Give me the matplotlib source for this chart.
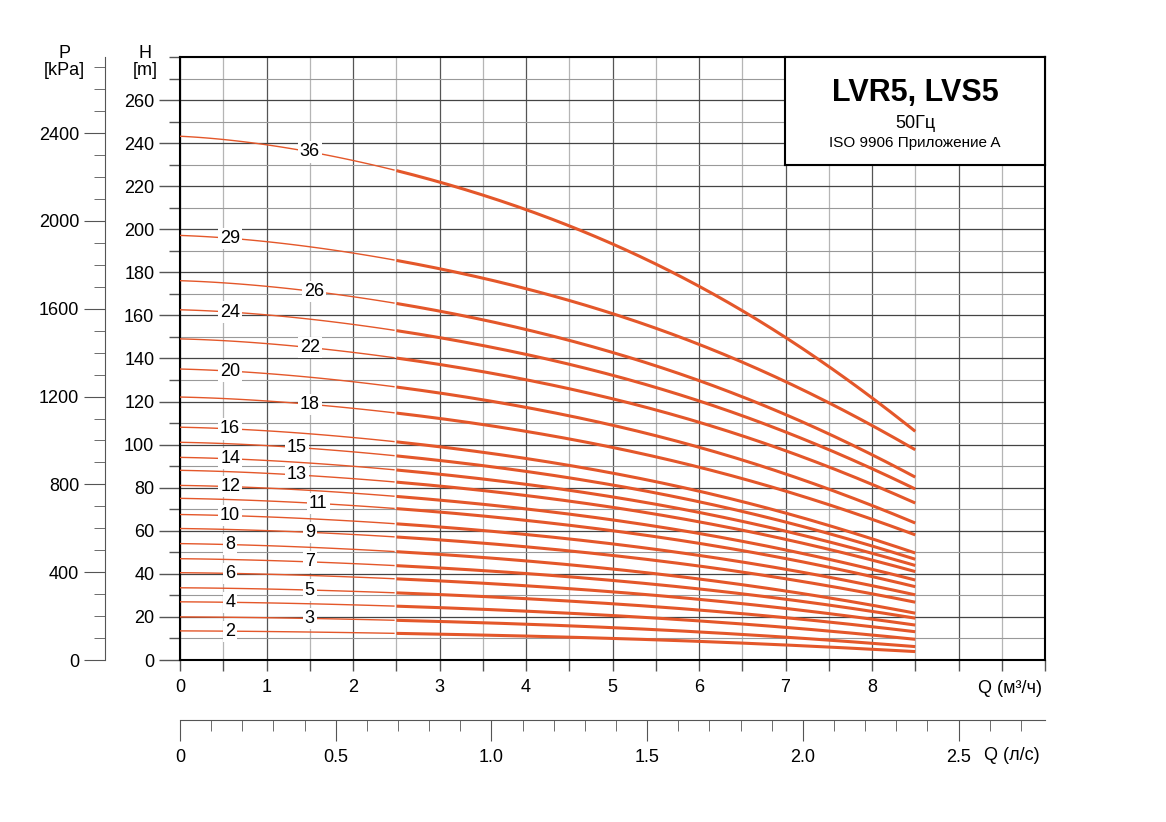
import numpy as np
import matplotlib
matplotlib.use("Agg")
import matplotlib.pyplot as plt
from matplotlib.ticker import MultipleLocator

q_pts = [0, 1, 2, 3, 4, 5, 6, 7, 8, 8.5]
stages = [36, 29, 26, 24, 22, 20, 18, 16, 15, 14, 13, 12, 11, 10, 9, 8, 7, 6, 5, 4, 3, 2]
heads = {
    36: [243, 240.1, 230.8, 222, 210, 193, 173, 150, 122, 106],
    29: [197, 194.9, 188.1, 181.8, 173, 160.7, 146.2, 129.4, 109.1, 97.5],
    26: [176, 174.1, 167.9, 162.1, 154, 142.7, 129.4, 114.1, 95.5, 84.8],
    24: [162.5, 160.8, 155.1, 149.8, 142.4, 132.1, 120, 106, 89, 79.3],
    22: [149, 147.4, 142.2, 137.3, 130.6, 121.2, 110.1, 97.3, 81.7, 72.8],
    20: [135, 133.5, 128.6, 124, 117.8, 108.9, 98.5, 86.5, 71.9, 63.5],
    18: [122, 120.7, 116.3, 112.2, 106.6, 98.6, 89.3, 78.5, 65.5, 58],
    16: [108, 106.8, 102.8, 99.1, 93.9, 86.7, 78.2, 68.3, 56.4, 49.6],
    15: [101, 99.9, 96.2, 92.7, 87.9, 81.2, 73.3, 64.1, 53.1, 46.7],
    14: [94, 93, 89.5, 86.3, 81.9, 75.7, 68.3, 59.9, 49.7, 43.8],
    13: [88, 87, 83.8, 80.8, 76.7, 70.8, 64, 56.1, 46.5, 41],
    12: [81, 80.1, 77.1, 74.3, 70.4, 65, 58.6, 51.2, 42.2, 37.1],
    11: [75, 74.1, 71.4, 68.7, 65.1, 60, 54, 47.2, 38.8, 34],
    10: [67.5, 66.7, 64.2, 61.8, 58.5, 53.9, 48.4, 42.2, 34.6, 30.2],
    9: [61, 60.3, 58, 55.8, 52.8, 48.5, 43.5, 37.8, 30.8, 26.8],
    8: [54, 53.3, 51.1, 49.1, 46.2, 42.2, 37.5, 32.1, 25.5, 21.7],
    7: [47, 46.4, 44.5, 42.8, 40.3, 36.9, 32.9, 28.3, 22.6, 19.4],
    6: [40.5, 40, 38.3, 36.8, 34.6, 31.6, 28.1, 24, 19, 16.2],
    5: [33.5, 33.1, 31.7, 30.4, 28.6, 26.1, 23.1, 19.7, 15.5, 13.1],
    4: [27, 26.6, 25.5, 24.3, 22.8, 20.6, 18.1, 15.2, 11.6, 9.6],
    3: [20, 19.7, 18.8, 17.9, 16.7, 15, 13, 10.6, 7.8, 6.2],
    2: [13.5, 13.3, 12.6, 12, 11.2, 10, 8.6, 7, 5, 3.9],
}
label_q = {36: 1.5, 29: 0.58, 26: 1.55, 24: 0.58, 22: 1.5, 20: 0.58, 18: 1.5,
           16: 0.58, 15: 1.35, 14: 0.58, 13: 1.35, 12: 0.58, 11: 1.6, 10: 0.58,
           9: 1.5, 8: 0.58, 7: 1.5, 6: 0.58, 5: 1.5, 4: 0.58, 3: 1.5, 2: 0.58}

plt.rcParams['font.family'] = ['Liberation Sans', 'DejaVu Sans']
fig = plt.figure(figsize=(11.66, 8.22), dpi=100)
ax = fig.add_axes([180/1166, 162/822, 865/1166, 603/822])
ax.set_xlim(0, 10)
ax.set_ylim(0, 280)

ax.xaxis.set_major_locator(MultipleLocator(1))
ax.xaxis.set_minor_locator(MultipleLocator(0.5))
ax.yaxis.set_major_locator(MultipleLocator(20))
ax.yaxis.set_minor_locator(MultipleLocator(10))
ax.grid(which='major', axis='x', color='#555555', lw=0.9)
ax.grid(which='minor', axis='x', color='#b5b5b5', lw=0.9)
ax.grid(which='major', axis='y', color='#444444', lw=0.9)
ax.grid(which='minor', axis='y', color='#999999', lw=0.8)
ax.set_axisbelow(True)
ax.set_yticks([0, 20, 40, 60, 80, 100, 120, 140, 160, 180, 200, 220, 240, 260])
for s in ax.spines.values():
    s.set_color('black'); s.set_linewidth(1.5)
ax.tick_params(which='both', direction='out', labelsize=13, width=1, color='#555555')
ax.tick_params(which='major', length=15, axis='y')
ax.tick_params(which='minor', length=8, axis='y')
ax.tick_params(which='major', length=8, axis='x', pad=6)
ax.tick_params(which='minor', length=8, axis='x')
ax.set_xticks(range(0, 11))
ax.set_xticklabels([str(i) if i <= 8 else '' for i in range(11)], fontsize=13)

color = '#E4572A'
for n in stages:
    h = np.array(heads[n])
    c = np.polyfit(q_pts, h, 5)
    qq = np.linspace(0, 8.5, 300)
    hh = np.polyval(c, qq)
    m = qq <= 2.5
    ax.plot(qq[m], hh[m], color=color, lw=1.0, zorder=3)
    ax.plot(qq[~m], hh[~m], color=color, lw=2.2, zorder=3, solid_capstyle='butt')
    lq = label_q[n]
    ax.text(lq, np.polyval(c, lq), str(n), ha='center', va='center', fontsize=13,
            zorder=4, bbox=dict(facecolor='white', edgecolor='none', pad=1.5))

# pressure axis
sec = ax.secondary_yaxis(-75/865, functions=(lambda h: h*9.81, lambda p: p/9.81))
sec.set_yticks([0, 400, 800, 1200, 1600, 2000, 2400])
sec.yaxis.set_minor_locator(MultipleLocator(100))
sec.tick_params(which='major', length=15, labelsize=13, color='#555555')
sec.tick_params(which='minor', length=8, color='#555555')
sec.spines['left'].set_color('#555555')

# l/s axis
sx = ax.secondary_xaxis(-60/603, functions=(lambda q: q/3.6, lambda l: l*3.6))
sx.set_xticks([0, 0.5, 1.0, 1.5, 2.0, 2.5])
sx.set_xticklabels(['0', '0.5', '1.0', '1.5', '2.0', '2.5'], fontsize=13)
sx.xaxis.set_minor_locator(MultipleLocator(0.1))
sx.tick_params(which='major', length=15, pad=6, color='#555555')
sx.tick_params(which='minor', length=8, color='#555555')
sx.spines['bottom'].set_color('#555555')

fig.text(1010/1166, 1-688/822, 'Q (м³/ч)', ha='center', va='center', fontsize=13)
fig.text(1012/1166, 1-755/822, 'Q (л/с)', ha='center', va='center', fontsize=13)
fig.text(145/1166, 1-62/822, 'H\n[m]', ha='center', va='center', fontsize=13, linespacing=1.0)
fig.text(64/1166, 1-62/822, 'P\n[kPa]', ha='center', va='center', fontsize=13, linespacing=1.0)

# title box
bx = fig.add_axes([785/1166, 1-165/822, 260/1166, 108/822])
bx.set_xticks([]); bx.set_yticks([])
for s in bx.spines.values():
    s.set_linewidth(1.5)
bx.text(0.5, 0.67, 'LVR5, LVS5', ha='center', va='center', fontsize=22, fontweight='bold', transform=bx.transAxes)
bx.text(0.5, 0.38, '50Гц', ha='center', va='center', fontsize=13, transform=bx.transAxes)
bx.text(0.5, 0.2, 'ISO 9906 Приложение A', ha='center', va='center', fontsize=11, transform=bx.transAxes)

fig.savefig('out.png', dpi=100)
